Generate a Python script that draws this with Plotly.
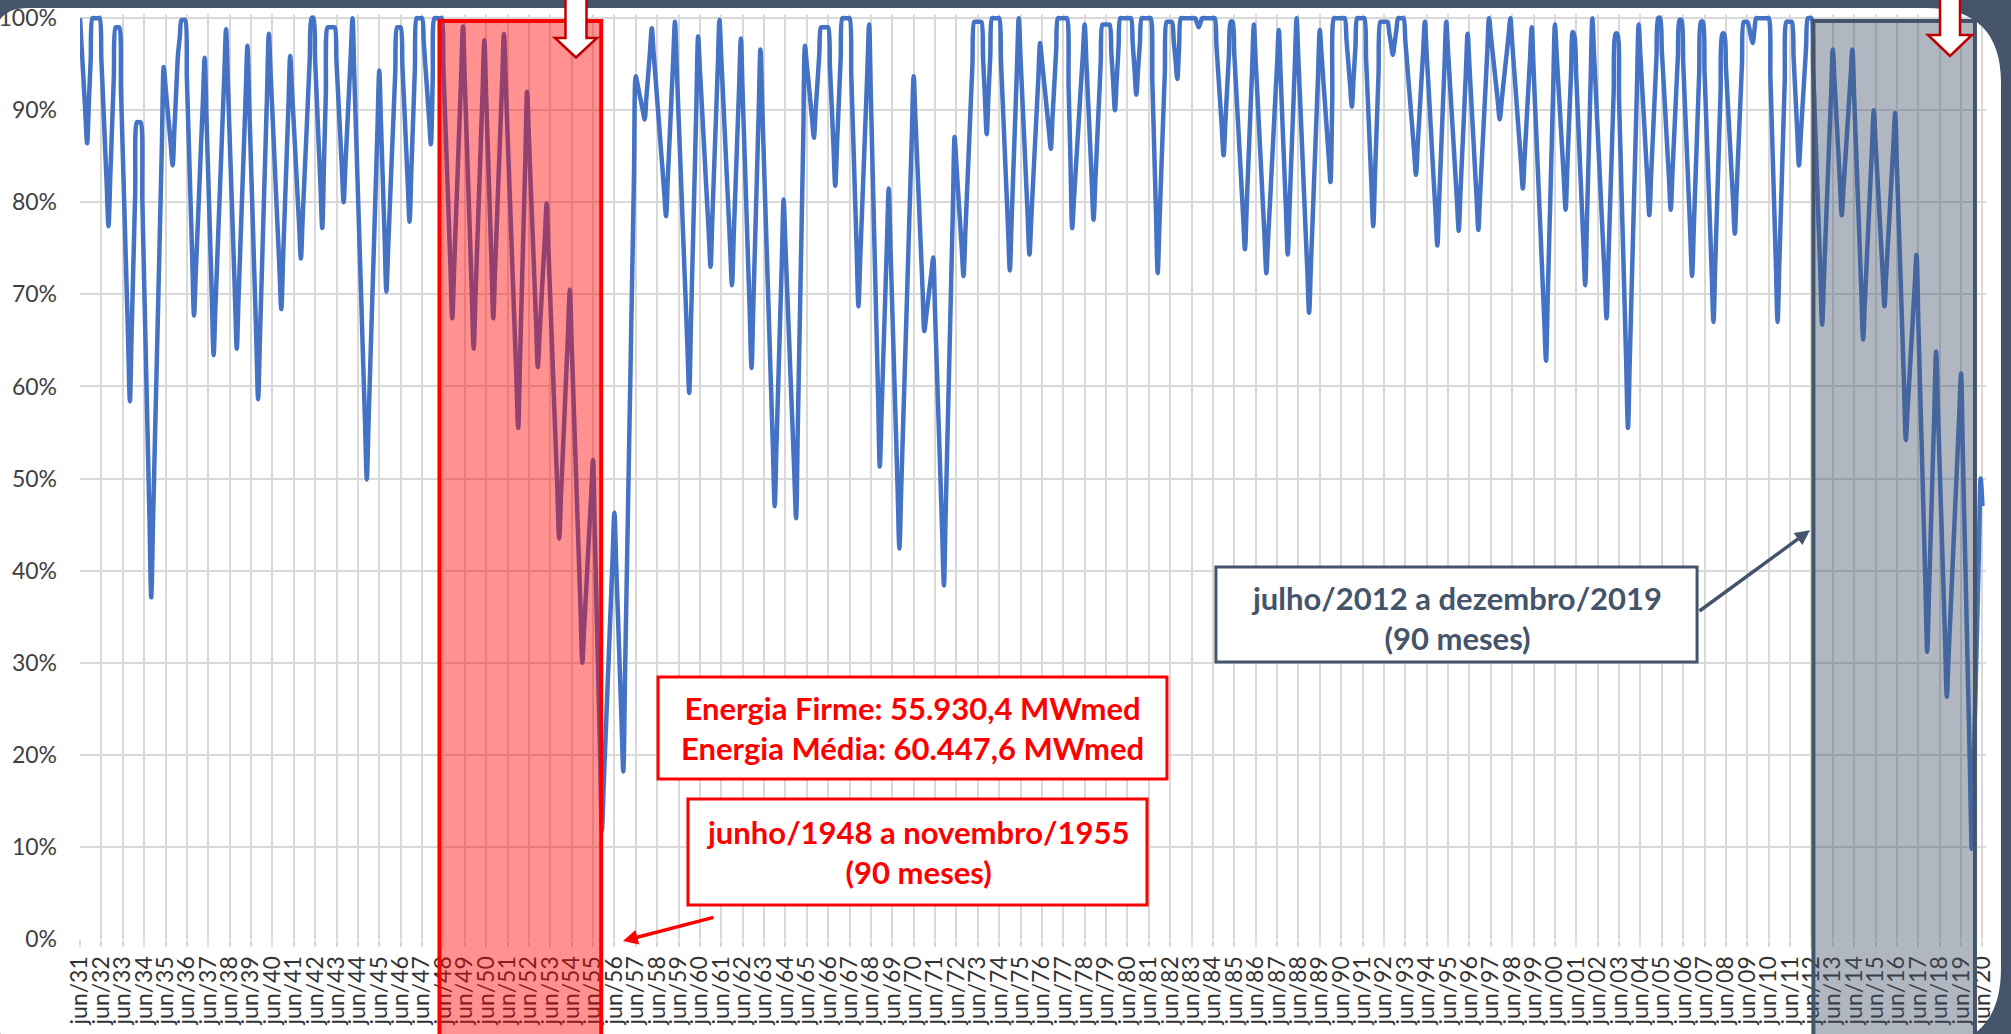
import plotly.graph_objects as go

# Stored energy of the system (% of maximum), monthly, starting jun/1931.
# One row per water year (jun .. may).
storage_1931_1940 = [
    100, 96.6, 93.2, 89.8, 86.4, 91, 95.5, 100, 100, 100, 100, 100,
    95.5, 91, 86.4, 81.9, 77.4, 82.8, 88.2, 93.6, 99, 99, 99, 92.2,
    85.5, 78.7, 71.9, 65.2, 58.4, 66, 73.6, 81.1, 88.7, 88.7, 88.7, 80.1,
    71.5, 62.9, 54.3, 45.7, 37.1, 45.3, 53.6, 61.8, 70, 78.2, 86.5, 94.7,
    92.6, 90.4, 88.3, 86.1, 84, 88, 92, 96, 97.9, 99.8, 99.8, 99.8,
    93.4, 87, 80.5, 74.1, 67.7, 72.4, 77, 81.7, 86.4, 91, 95.7, 89.2,
    82.8, 76.3, 69.9, 63.4, 68.5, 73.5, 78.6, 83.6, 88.7, 93.7, 98.8, 93,
    87.2, 81.4, 75.7, 69.9, 64.1, 69.6, 75.1, 80.6, 86, 91.5, 97, 90.6,
    84.2, 77.8, 71.4, 65, 58.6, 65.2, 71.8, 78.5, 85.1, 91.7, 98.3, 94,
    89.8, 85.5, 81.2, 76.9, 72.7, 68.4, 73.9, 79.4, 84.9, 90.4, 95.9, 92.2,
]
storage_1941_1950 = [
    88.6, 84.9, 81.2, 77.6, 73.9, 78.3, 82.6, 86.9, 91.3, 95.6, 100, 100,
    95.4, 90.9, 86.3, 81.8, 77.2, 84.5, 91.7, 99, 99, 99, 99, 99,
    95.2, 91.4, 87.6, 83.8, 80, 84, 88, 92, 96, 100, 93.7, 87.5,
    81.2, 75, 68.7, 62.4, 56.2, 49.9, 56.2, 62.6, 68.9, 75.3, 81.6, 88,
    94.3, 88.3, 82.3, 76.3, 70.3, 75.1, 79.9, 84.7, 89.4, 94.2, 99, 99,
    99, 94.8, 90.6, 86.3, 82.1, 77.9, 83.4, 88.9, 94.5, 100, 100, 100,
    100, 97.3, 94.5, 91.8, 89, 86.3, 93.2, 100, 100, 100, 100, 100,
    94.6, 89.1, 83.7, 78.3, 72.8, 67.4, 72.7, 78, 83.2, 88.5, 93.8, 99.1,
    93.3, 87.4, 81.6, 75.8, 69.9, 64.1, 69.7, 75.3, 80.8, 86.4, 92, 97.6,
    91.6, 85.5, 79.5, 73.4, 67.4, 72.6, 77.7, 82.9, 88, 93.2, 98.3, 93,
]
storage_1951_1960 = [
    87.6, 82.2, 76.9, 71.5, 66.2, 60.8, 55.5, 62.8, 70.1, 77.4, 84.7, 92,
    87, 82, 77.1, 72.1, 67.1, 62.1, 65.7, 69.2, 72.8, 76.3, 79.9, 74.7,
    69.5, 64.3, 59.1, 53.9, 48.7, 43.5, 48, 52.5, 57, 61.5, 66, 70.5,
    64.7, 58.9, 53.1, 47.4, 41.6, 35.8, 30, 33.7, 37.3, 41, 44.7, 48.3,
    52, 44, 35.9, 27.9, 19.8, 11.8, 16.7, 21.7, 26.6, 31.5, 36.4, 41.4,
    46.3, 40.7, 35.1, 29.4, 23.8, 18.2, 29, 39.8, 50.6, 61.4, 72.2, 82.9,
    93.7, 92.8, 91.8, 90.9, 89.9, 89, 91.5, 93.9, 96.4, 98.9, 96.3, 93.8,
    91.2, 88.7, 86.1, 83.6, 81, 78.5, 82.7, 86.9, 91.2, 95.4, 99.6, 94.6,
    89.5, 84.5, 79.4, 74.4, 69.4, 64.3, 59.3, 67, 74.8, 82.5, 90.3, 98,
    94.4, 90.9, 87.3, 83.7, 80.1, 76.6, 73, 78.4, 83.7, 89.1, 94.4, 99.8,
]
storage_1961_1970 = [
    95.7, 91.6, 87.5, 83.3, 79.2, 75.1, 71, 76.4, 81.7, 87.1, 92.4, 97.8,
    91.8, 85.9, 79.9, 73.9, 68, 62, 68.9, 75.8, 82.8, 89.7, 96.6, 90.4,
    84.2, 78, 71.8, 65.6, 59.4, 53.2, 47, 53.7, 60.3, 67, 73.6, 80.3,
    75.4, 70.4, 65.5, 60.5, 55.6, 50.6, 45.7, 56, 66.2, 76.5, 86.7, 97,
    95, 93, 91, 89, 87, 90, 93, 96, 99, 99, 99, 99,
    99, 94.7, 90.4, 86.1, 81.8, 86.4, 90.9, 95.5, 100, 100, 100, 100,
    100, 93.7, 87.5, 81.2, 75, 68.7, 73.8, 78.9, 84, 89.1, 94.2, 99.3,
    91.3, 83.3, 75.3, 67.3, 59.3, 51.3, 57.3, 63.4, 69.4, 75.5, 81.5, 75,
    68.5, 61.9, 55.4, 48.9, 42.4, 48.8, 55.2, 61.6, 68, 74.5, 80.9, 87.3,
    93.7, 89.1, 84.5, 79.8, 75.2, 70.6, 66, 67.6, 69.2, 70.8, 72.4, 74,
]
storage_1971_1980 = [
    68.1, 62.1, 56.2, 50.3, 44.3, 38.4, 46.5, 54.6, 62.7, 70.9, 79, 87.1,
    84.1, 81, 78, 75, 72, 76.6, 81.2, 85.8, 90.4, 95, 99.6, 99.6,
    99.6, 99.6, 99.6, 95.5, 91.5, 87.4, 91.6, 95.8, 100, 100, 100, 100,
    100, 95.4, 90.9, 86.3, 81.7, 77.2, 72.6, 78.1, 83.6, 89, 94.5, 100,
    95.7, 91.4, 87.2, 82.9, 78.6, 74.3, 78.1, 82, 85.8, 89.6, 93.5, 97.3,
    95.4, 93.5, 91.6, 89.6, 87.7, 85.8, 89.4, 92.9, 96.5, 100, 100, 100,
    100, 100, 100, 92.4, 84.8, 77.2, 80.4, 83.5, 86.7, 89.8, 93, 96.1,
    99.3, 95.1, 90.8, 86.6, 82.3, 78.1, 82.3, 86.6, 90.8, 95.1, 99.3, 99.3,
    99.3, 99.3, 99.3, 96.2, 93.1, 90, 93.3, 96.7, 100, 100, 100, 100,
    100, 100, 100, 97.2, 94.4, 91.7, 94.5, 97.2, 100, 100, 100, 100,
]
storage_1981_1990 = [
    100, 100, 93.1, 86.1, 79.2, 72.3, 77.8, 83.2, 88.7, 94.1, 99.6, 99.6,
    99.6, 99.6, 97.5, 95.5, 93.4, 96.7, 100, 100, 100, 100, 100, 100,
    100, 100, 100, 99.5, 99, 99.5, 100, 100, 100, 100, 100, 100,
    100, 100, 97, 94, 91.1, 88.1, 85.1, 88.7, 92.4, 96, 99.6, 99.6,
    96.1, 92.5, 89, 85.5, 81.9, 78.4, 74.9, 79.8, 84.7, 89.5, 94.4, 99.3,
    95.4, 91.6, 87.7, 83.9, 80, 76.2, 72.3, 76.1, 79.8, 83.6, 87.4, 91.2,
    94.9, 98.7, 93.8, 88.9, 84.1, 79.2, 74.3, 79.4, 84.6, 89.7, 94.9, 100,
    95.4, 90.9, 86.3, 81.7, 77.1, 72.6, 68, 73.1, 78.2, 83.4, 88.5, 93.6,
    98.7, 96, 93.2, 90.5, 87.7, 85, 82.2, 91.1, 100, 100, 100, 100,
    100, 100, 100, 97.6, 95.2, 92.8, 90.4, 93.6, 96.8, 100, 100, 100,
]
storage_1991_2000 = [
    100, 100, 95.5, 91, 86.4, 81.9, 77.4, 83, 88.5, 94.1, 99.6, 99.6,
    99.6, 99.6, 99.6, 98.4, 97.2, 96, 97.3, 98.7, 100, 100, 100, 100,
    97.6, 95.1, 92.7, 90.3, 87.9, 85.4, 83, 86.3, 89.6, 93, 96.3, 99.6,
    96.1, 92.7, 89.2, 85.7, 82.2, 78.8, 75.3, 80.2, 85, 89.9, 94.7, 99.6,
    96.4, 93.1, 89.9, 86.7, 83.4, 80.2, 76.9, 81.2, 85.5, 89.7, 94, 98.3,
    94.8, 91.2, 87.7, 84.1, 80.6, 77, 80.8, 84.7, 88.5, 92.3, 96.2, 100,
    98.2, 96.3, 94.5, 92.7, 90.8, 89, 90.8, 92.7, 94.5, 96.3, 98.2, 100,
    97.4, 94.7, 92.1, 89.4, 86.8, 84.1, 81.5, 85, 88.5, 92, 95.5, 99,
    94.5, 89.9, 85.4, 80.9, 76.4, 71.8, 67.3, 62.8, 70.1, 77.4, 84.7, 92,
    99.3, 96, 92.6, 89.3, 85.9, 82.6, 79.2, 84, 88.9, 93.7, 98.5, 98,
]
storage_2001_2010 = [
    93.5, 89, 84.5, 80, 75.5, 71, 78.3, 85.5, 92.8, 100, 95.9, 91.9,
    87.8, 83.7, 79.6, 75.6, 71.5, 67.4, 73.6, 79.8, 86, 92.1, 98.3, 98.3,
    91.2, 84, 76.9, 69.8, 62.6, 55.5, 62.8, 70.1, 77.4, 84.7, 92, 99.3,
    95.9, 92.4, 89, 85.5, 82.1, 78.6, 82.9, 87.2, 91.4, 95.7, 100, 100,
    96.5, 93.1, 89.6, 86.1, 82.7, 79.2, 83.3, 87.4, 91.6, 95.7, 99.8, 99.8,
    95.2, 90.5, 85.9, 81.3, 76.6, 72, 77.5, 83, 88.6, 94.1, 99.6, 99.6,
    94.2, 88.7, 83.3, 77.9, 72.4, 67, 73.3, 79.5, 85.8, 92, 98.3, 98.3,
    94.7, 91, 87.4, 83.8, 80.2, 76.6, 81.2, 85.8, 90.4, 95, 99.6, 99.6,
    99.6, 99, 98, 97.3, 98.7, 100, 100, 100, 100, 100, 100, 100,
    100, 93.4, 86.8, 80.2, 73.6, 67, 73.5, 80, 86.6, 93.1, 99.6, 99.6,
]
storage_2011_2020 = [
    99.6, 99.6, 95.7, 91.8, 87.9, 84, 87.2, 90.4, 93.6, 96.8, 100, 100,
    100, 94.5, 88.9, 83.4, 77.8, 72.3, 66.7, 71.7, 76.7, 81.7, 86.6, 91.6,
    96.6, 93, 89.4, 85.8, 82.2, 78.6, 81.6, 84.6, 87.6, 90.6, 93.6, 96.6,
    91.4, 86.1, 80.9, 75.6, 70.4, 65.1, 69.3, 73.4, 77.6, 81.7, 85.9, 90,
    86.5, 82.9, 79.4, 75.8, 72.3, 68.7, 72.2, 75.7, 79.2, 82.7, 86.2, 89.7,
    83.8, 77.9, 72, 66, 60.1, 54.2, 57.6, 60.9, 64.3, 67.6, 71, 74.3,
    67.1, 59.9, 52.8, 45.6, 38.4, 31.2, 37.7, 44.2, 50.8, 57.3, 63.8, 57.6,
    51.3, 45.1, 38.8, 32.6, 26.3, 30.7, 35.1, 39.5, 43.9, 48.2, 52.6, 57,
    61.4, 52.8, 44.2, 35.6, 27, 18.4, 9.8, 17.8, 25.9, 33.9, 42, 50,
    47,
]

storage = (storage_1931_1940 + storage_1941_1950 + storage_1951_1960 +
           storage_1961_1970 + storage_1971_1980 + storage_1981_1990 +
           storage_1991_2000 + storage_2001_2010 + storage_2011_2020)
month_index = list(range(len(storage)))  # 0 = jun/1931

label_years = list(range(1931, 2021))
tick_positions = [12 * i for i in range(len(label_years))]
tick_labels = ["jun/%02d" % (y % 100) for y in label_years]

y_ticks = list(range(0, 101, 10))
y_tick_labels = ["%d%%" % v for v in y_ticks]

# highlighted critical periods (month index, start/end)
period_1948_1955 = (201.8, 292.6)
period_2012_2019 = (973.1, 1063.8)

BLUE = "#4472C4"
RED = "#FF0000"
SLATE = "#44546A"
GRID = "#D9D9D9"
FONT = "Lato"

X_RANGE = [0, 1070]
Y_RANGE = [0, 101.1]

W, H = 2011, 1034
ML, MR, MT, MB = 80, 25, 8, 95
PW, PH = W - ML - MR, H - MT - MB


def pxx(v):
    return (v - ML) / PW


def pxy(v):
    return (H - MB - v) / PH


def P(x, y):
    return "%.5f,%.5f" % (pxx(x), pxy(y))


def xfrac(idx):
    return (idx - X_RANGE[0]) / (X_RANGE[1] - X_RANGE[0])


def yfrac(val):
    return (val - Y_RANGE[0]) / (Y_RANGE[1] - Y_RANGE[0])


fig = go.Figure()
fig.add_trace(go.Scatter(
    x=month_index, y=storage, mode="lines",
    line=dict(color=BLUE, width=4.5, shape="spline", smoothing=0.9),
    hoverinfo="skip", showlegend=False,
))

shapes = []
# highlighted periods (drawn above the line and through the tick labels)
shapes.append(dict(type="rect", xref="paper", yref="paper", layer="above",
                   x0=xfrac(period_1948_1955[0]), x1=xfrac(period_1948_1955[1]),
                   y0=pxy(1060), y1=yfrac(99.7),
                   fillcolor="rgba(255,0,0,0.43)", line=dict(color=RED, width=4)))
shapes.append(dict(type="rect", xref="paper", yref="paper", layer="above",
                   x0=xfrac(period_2012_2019[0]), x1=xfrac(period_2012_2019[1]),
                   y0=pxy(1060), y1=yfrac(99.7),
                   fillcolor="rgba(68,84,106,0.42)", line=dict(color=SLATE, width=4)))
# hide gridline stubs above 100 %
shapes.append(dict(type="rect", xref="paper", yref="paper", layer="above",
                   x0=pxx(79), x1=pxx(1990), y0=pxy(14.5), y1=pxy(6),
                   fillcolor="white", line=dict(width=0)))
# text boxes
shapes.append(dict(type="rect", xref="x", yref="y", layer="above",
                   x0=324.5, x1=610.2, y0=17.37, y1=28.45,
                   fillcolor="white", line=dict(color=RED, width=3)))
shapes.append(dict(type="rect", xref="x", yref="y", layer="above",
                   x0=341.3, x1=599.0, y0=3.69, y1=15.2,
                   fillcolor="white", line=dict(color=RED, width=3)))
shapes.append(dict(type="rect", xref="x", yref="y", layer="above",
                   x0=637.7, x1=907.8, y0=30.08, y1=40.39,
                   fillcolor="white", line=dict(color=SLATE, width=3)))

# dark slide frame with rounded white panel
L, T, R, B = -6, 8, 2001, 1048
rtl, rtr, rbr, rbl = 34, 75, 80, 40
outer = "M%s L%s L%s L%s Z" % (P(-60, -60), P(2100, -60), P(2100, 1120), P(-60, 1120))
inner = ("M%s L%s Q%s %s L%s Q%s %s L%s Q%s %s L%s Q%s %s Z" % (
    P(L + rtl, T), P(R - rtr, T), P(R, T), P(R, T + rtr), P(R, B - rbr),
    P(R, B), P(R - rbr, B), P(L + rbl, B), P(L, B), P(L, B - rbl),
    P(L, T + rtl), P(L, T), P(L + rtl, T)))
shapes.append(dict(type="path", xref="paper", yref="paper", layer="above",
                   path=outer + " " + inner, fillrule="evenodd",
                   fillcolor=SLATE, line=dict(width=0)))


def block_arrow(cx, half_shaft, half_head, shoulder, tip):
    return "M%s L%s L%s L%s L%s L%s L%s Z" % (
        P(cx - half_shaft, -6), P(cx - half_shaft, shoulder), P(cx - half_head, shoulder),
        P(cx, tip), P(cx + half_head, shoulder), P(cx + half_shaft, shoulder),
        P(cx + half_shaft, -6))


for cx, hs, hh, sh, tp in [(576, 10.5, 21, 38, 57.5), (1950, 10, 22, 35, 56)]:
    shapes.append(dict(type="path", xref="paper", yref="paper", layer="above",
                       path=block_arrow(cx, hs, hh, sh, tp),
                       fillcolor="white", line=dict(color="#C00000", width=2.5)))

annotations = [
    dict(x=467.4, y=22.9, xref="x", yref="y", showarrow=False,
         text="Energia Firme: 55.930,4 MWmed<br>Energia Média: 60.447,6 MWmed",
         font=dict(family=FONT, size=31, color=RED, weight=700),
         xanchor="center", yanchor="middle", align="center"),
    dict(x=470.1, y=9.45, xref="x", yref="y", showarrow=False,
         text="junho/1948 a novembro/1955<br>(90 meses)",
         font=dict(family=FONT, size=31, color=RED, weight=700),
         xanchor="center", yanchor="middle", align="center"),
    dict(x=772.7, y=34.9, xref="x", yref="y", showarrow=False,
         text="julho/2012 a dezembro/2019<br>(90 meses)",
         font=dict(family=FONT, size=31, color=SLATE, weight=700),
         xanchor="center", yanchor="middle", align="center"),
    dict(x=304.8, y=-0.22, ax=356.5, ay=2.39, xref="x", yref="y", axref="x", ayref="y",
         text="", showarrow=True, arrowhead=2, arrowsize=0.85, arrowwidth=3.5,
         arrowcolor=RED, standoff=0, startstandoff=0),
    dict(x=971.2, y=44.4, ax=908.3, ay=35.5, xref="x", yref="y", axref="x", ayref="y",
         text="", showarrow=True, arrowhead=2, arrowsize=0.85, arrowwidth=3.5,
         arrowcolor=SLATE, standoff=0, startstandoff=0),
]

fig.update_layout(
    width=W, height=H,
    margin=dict(l=ML, r=MR, t=MT, b=MB, pad=0, autoexpand=False),
    paper_bgcolor="white", plot_bgcolor="white",
    showlegend=False,
    shapes=shapes, annotations=annotations,
    xaxis=dict(range=X_RANGE, tickmode="array", tickvals=tick_positions,
               ticktext=tick_labels, tickangle=-90, automargin=False,
               ticks="outside", ticklen=7, tickcolor=GRID, tickwidth=1.5,
               showgrid=True, gridcolor=GRID, gridwidth=1.5,
               zeroline=False, showline=False,
               tickfont=dict(family=FONT, size=23, color="#333333")),
    yaxis=dict(range=Y_RANGE, tickmode="array", tickvals=y_ticks,
               ticktext=y_tick_labels, ticks="", ticklabelstandoff=22, automargin=False,
               showgrid=True, gridcolor=GRID, gridwidth=1.5,
               zeroline=False, showline=False,
               tickfont=dict(family=FONT, size=23, color="#404040")),
)

fig.write_html("out.html", config={"displayModeBar": False},
               post_script="document.body.style.margin='0';document.body.style.overflow='hidden';")
